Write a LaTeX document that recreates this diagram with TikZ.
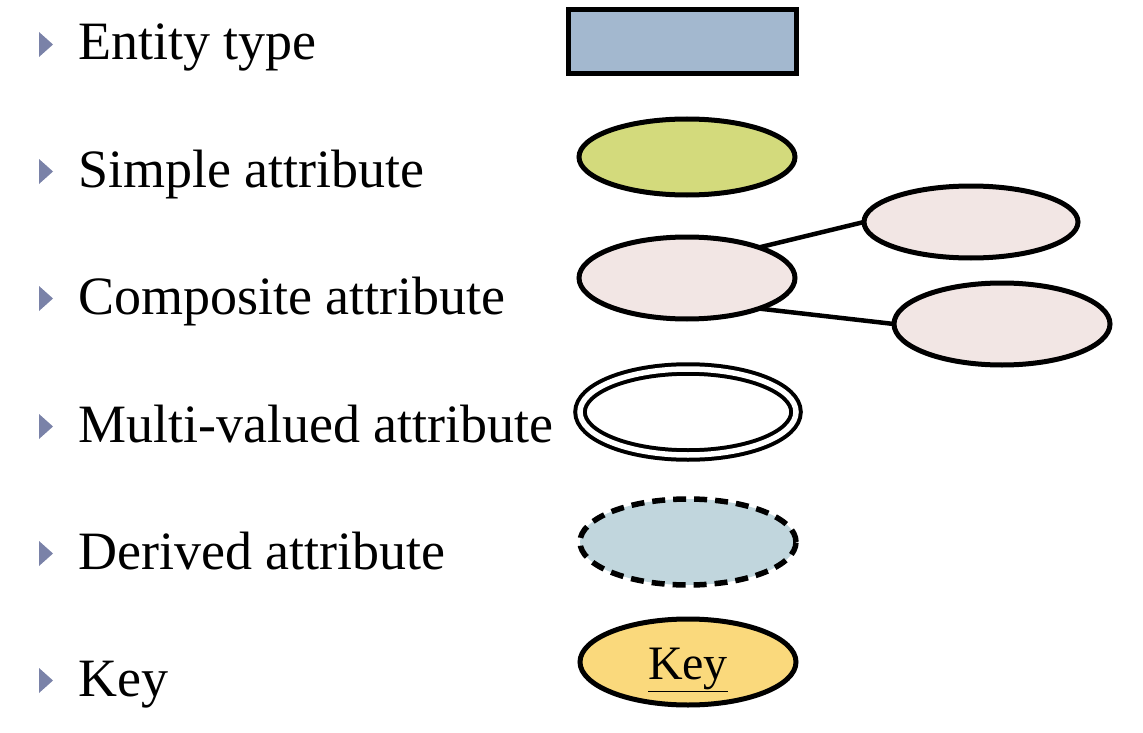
\documentclass[tikz,border=0pt]{standalone}
\usepackage{fontspec}
\setmainfont{Liberation Serif}
\usetikzlibrary{shapes.geometric}
\definecolor{bulletc}{HTML}{7A82A8}
\definecolor{entityc}{HTML}{A3B8CF}
\definecolor{simplec}{HTML}{D3DA7C}
\definecolor{compc}{HTML}{F2E6E4}
\definecolor{derivc}{HTML}{C1D6DD}
\definecolor{keyc}{HTML}{FAD97C}
\tikzset{
  lbl/.style={anchor=base west, inner sep=0pt, font=\fontsize{54}{60}\selectfont},
  bul/.style={fill=bulletc, draw=none},
  shp/.style={draw=black, line width=5pt, inner sep=0pt, outer sep=0pt},
  ell/.style={shp, ellipse},
  conn/.style={draw=black, line width=4.5pt},
}
\begin{document}
\begin{tikzpicture}[x=1pt,y=-1pt]
\useasboundingbox (0,0) rectangle (1143,733);
% labels
\node[lbl] (t1) at (78,60) {Entity type};
\node[lbl] (t2) at (78,187) {Simple attribute};
\node[lbl] (t3) at (78,314) {Composite attribute};
\node[lbl] (t4) at (78,442) {Multi-valued attribute};
\node[lbl] (t5) at (78,569) {Derived attribute};
\node[lbl] (t6) at (78,696) {Key};
% bullets
\foreach \b in {60,187,314,442,569,696}{
  \fill[bul] (39,\b-28) -- (53,\b-15.5) -- (39,\b-3) -- cycle;
}
% shapes
\node[shp, rectangle, fill=entityc, minimum width=228pt, minimum height=64pt] (ent) at (682.5,41.5) {};
\node[ell, fill=simplec, minimum width=216pt, minimum height=76pt] (simp) at (687,157) {};
\node[ell, fill=compc, minimum width=216pt, minimum height=82pt] (comp) at (687,278) {};
\node[ell, fill=compc, minimum width=214pt, minimum height=72pt] (cup) at (971,222) {};
\node[ell, fill=compc, minimum width=216pt, minimum height=82pt] (clow) at (1002,324) {};
\draw[conn] (comp.23) -- (cup.west);
\draw[conn] (comp.-23) -- (clow.west);
\node[ellipse, draw=black, line width=4pt, double=white, double distance=5.5pt, fill=white, inner sep=0pt,
      minimum width=216pt, minimum height=86pt] (multi) at (688,412) {};
\node[ell, fill=derivc, line width=5.5pt, dash pattern=on 13pt off 8pt, minimum width=216pt, minimum height=86pt] (der) at (688,542) {};
\node[ell, fill=keyc, minimum width=216pt, minimum height=86pt] (key) at (688,662) {};
\node[anchor=base, inner sep=0pt, font=\fontsize{48}{52}\selectfont] (keytxt) at (688,679) {\underline{Key}};
\end{tikzpicture}
\end{document}
